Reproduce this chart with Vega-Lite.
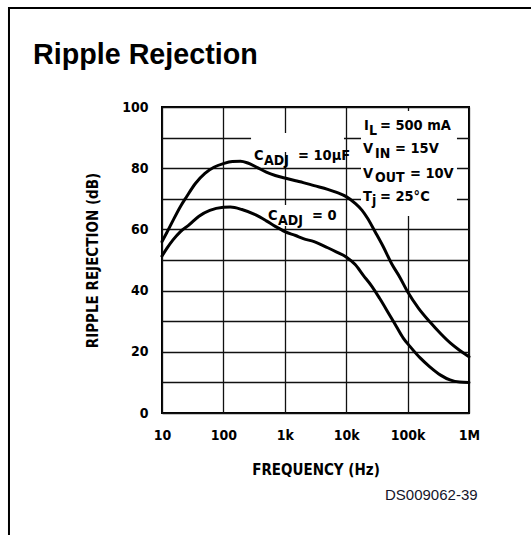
{
  "$schema": "https://vega.github.io/schema/vega-lite/v6.json",
  "width": 307,
  "height": 306,
  "autosize": {"type": "none"},
  "padding": {"left": 162, "top": 107, "right": 62, "bottom": 122},
  "background": "white",
  "title": {
    "text": "Ripple Rejection",
    "anchor": "start",
    "frame": "group",
    "font": "Liberation Sans",
    "fontSize": 28.7,
    "fontWeight": "bold",
    "color": "#000",
    "baseline": "alphabetic",
    "dx": -129,
    "dy": 124,
    "offset": 38
  },
  "datasets": {
    "curves": [
      {"s": "10uF", "f": 10, "db": 56},
      {"s": "10uF", "f": 12, "db": 59},
      {"s": "10uF", "f": 15, "db": 62.8},
      {"s": "10uF", "f": 20, "db": 67.5},
      {"s": "10uF", "f": 25, "db": 70.6},
      {"s": "10uF", "f": 35, "db": 75},
      {"s": "10uF", "f": 50, "db": 78.3},
      {"s": "10uF", "f": 70, "db": 80.3},
      {"s": "10uF", "f": 100, "db": 81.5},
      {"s": "10uF", "f": 140, "db": 82.2},
      {"s": "10uF", "f": 190, "db": 82.3},
      {"s": "10uF", "f": 250, "db": 81.7},
      {"s": "10uF", "f": 350, "db": 80.3},
      {"s": "10uF", "f": 500, "db": 78.7},
      {"s": "10uF", "f": 700, "db": 77.6},
      {"s": "10uF", "f": 1000, "db": 76.8},
      {"s": "10uF", "f": 1500, "db": 75.9},
      {"s": "10uF", "f": 2000, "db": 75.3},
      {"s": "10uF", "f": 3000, "db": 74.3},
      {"s": "10uF", "f": 5000, "db": 73.1},
      {"s": "10uF", "f": 7000, "db": 72.1},
      {"s": "10uF", "f": 10000, "db": 70.7},
      {"s": "10uF", "f": 14000, "db": 68.5},
      {"s": "10uF", "f": 18000, "db": 66.3},
      {"s": "10uF", "f": 22000, "db": 63.8},
      {"s": "10uF", "f": 30000, "db": 59},
      {"s": "10uF", "f": 40000, "db": 54.4},
      {"s": "10uF", "f": 55000, "db": 48.8},
      {"s": "10uF", "f": 75000, "db": 44.3},
      {"s": "10uF", "f": 100000, "db": 39.6},
      {"s": "10uF", "f": 150000, "db": 34.3},
      {"s": "10uF", "f": 230000, "db": 29.8},
      {"s": "10uF", "f": 350000, "db": 25.8},
      {"s": "10uF", "f": 500000, "db": 22.8},
      {"s": "10uF", "f": 700000, "db": 20.5},
      {"s": "10uF", "f": 1000000, "db": 18.4},
      {"s": "0", "f": 10, "db": 51.3},
      {"s": "0", "f": 12, "db": 53.8},
      {"s": "0", "f": 15, "db": 56.5},
      {"s": "0", "f": 20, "db": 59.3},
      {"s": "0", "f": 27, "db": 61.3},
      {"s": "0", "f": 40, "db": 64.3},
      {"s": "0", "f": 60, "db": 66.2},
      {"s": "0", "f": 100, "db": 67.2},
      {"s": "0", "f": 130, "db": 67.3},
      {"s": "0", "f": 200, "db": 66.5},
      {"s": "0", "f": 330, "db": 64.8},
      {"s": "0", "f": 500, "db": 62.8},
      {"s": "0", "f": 700, "db": 61},
      {"s": "0", "f": 1000, "db": 59.3},
      {"s": "0", "f": 1500, "db": 58},
      {"s": "0", "f": 2000, "db": 57},
      {"s": "0", "f": 3000, "db": 56},
      {"s": "0", "f": 5000, "db": 54},
      {"s": "0", "f": 7000, "db": 52.6},
      {"s": "0", "f": 10000, "db": 51},
      {"s": "0", "f": 14000, "db": 48.5},
      {"s": "0", "f": 19000, "db": 45},
      {"s": "0", "f": 26000, "db": 41.5},
      {"s": "0", "f": 35000, "db": 37.5},
      {"s": "0", "f": 50000, "db": 32.3},
      {"s": "0", "f": 66000, "db": 28.2},
      {"s": "0", "f": 85000, "db": 24.5},
      {"s": "0", "f": 110000, "db": 21.7},
      {"s": "0", "f": 160000, "db": 18},
      {"s": "0", "f": 230000, "db": 15.1},
      {"s": "0", "f": 350000, "db": 12.3},
      {"s": "0", "f": 490000, "db": 10.8},
      {"s": "0", "f": 700000, "db": 10.1},
      {"s": "0", "f": 1000000, "db": 10}
    ],
    "masks": [
      {"f": 282, "f2": 9200, "db": 85.3, "db2": 91.5},
      {"f": 17420, "f2": 637000, "db": 64.4, "db2": 98.7},
      {"f": 494, "f2": 7350, "db": 61.1, "db2": 68.0}
    ],
    "notes": [
      {"t": "C", "f": 315, "db": 82.68},
      {"t": "= 10\u03bcF", "f": 1641, "db": 82.68},
      {"t": "C", "f": 532, "db": 63.07},
      {"t": "= 0", "f": 2773, "db": 63.07},
      {"t": "I", "f": 19500, "db": 92.5},
      {"t": "= 500 mA", "f": 35500, "db": 92.5},
      {"t": "V", "f": 18790, "db": 84.97},
      {"t": "= 15V", "f": 62370, "db": 84.97},
      {"t": "V", "f": 18790, "db": 76.8},
      {"t": "= 10V", "f": 109400, "db": 76.8},
      {"t": "T", "f": 18790, "db": 69.28},
      {"t": "= 25\u00b0C", "f": 35500, "db": 69.28}
    ],
    "subs": [
      {"t": "ADJ", "f": 458, "db": 81.05},
      {"t": "ADJ", "f": 774, "db": 61.44},
      {"t": "L", "f": 23500, "db": 90.95},
      {"t": "IN", "f": 29430, "db": 83.33},
      {"t": "OUT", "f": 29430, "db": 75.49},
      {"t": "j", "f": 26300, "db": 67.97}
    ],
    "code": [
      {"t": "DS009062-39", "f": 42850, "db": -28.4}
    ]
  },
  "layer": [
    {
      "data": {"values": [{"frame": "page"}]},
      "mark": {"type": "rect", "fill": null, "stroke": "#000", "strokeWidth": 2},
      "encoding": {
        "x": {
          "datum": 0.0322,
          "type": "quantitative",
          "scale": {"type": "log", "domain": [10, 1000000]},
          "axis": {
            "values": [10, 100, 1000, 10000, 100000, 1000000],
            "labelExpr": "datum.value >= 1000000 ? '1M' : datum.value >= 1000 ? (datum.value / 1000) + 'k' : '' + datum.value",
            "title": "FREQUENCY (Hz)",
            "labelFlush": false,
            "labelOverlap": false,
            "labelPadding": 15,
            "titlePadding": 20
          }
        },
        "x2": {"datum": 1000000000},
        "y": {
          "datum": 132.35,
          "type": "quantitative",
          "scale": {"domain": [0, 100]},
          "axis": {
            "values": [0, 10, 20, 30, 40, 50, 60, 70, 80, 90, 100],
            "labelExpr": "datum.value % 20 === 0 ? datum.label : ''",
            "title": "RIPPLE REJECTION (dB)",
            "labelPadding": 14,
            "labelOverlap": false,
            "titlePadding": 21
          }
        },
        "y2": {"datum": -60}
      }
    },
    {
      "encoding": {
        "x": {
          "field": "f",
          "type": "quantitative",
          "scale": {"type": "log", "domain": [10, 1000000]},
          "axis": {
            "values": [10, 100, 1000, 10000, 100000, 1000000],
            "labelExpr": "datum.value >= 1000000 ? '1M' : datum.value >= 1000 ? (datum.value / 1000) + 'k' : '' + datum.value",
            "title": "FREQUENCY (Hz)",
            "labelFlush": false,
            "labelOverlap": false,
            "labelPadding": 15,
            "titlePadding": 20
          }
        },
        "y": {
          "field": "db",
          "type": "quantitative",
          "scale": {"domain": [0, 100]},
          "axis": {
            "values": [0, 10, 20, 30, 40, 50, 60, 70, 80, 90, 100],
            "labelExpr": "datum.value % 20 === 0 ? datum.label : ''",
            "title": "RIPPLE REJECTION (dB)",
            "labelPadding": 14,
            "labelOverlap": false,
            "titlePadding": 21
          }
        }
      },
      "layer": [
        {
          "data": {"name": "masks"},
          "mark": {"type": "rect", "fill": "white", "stroke": null},
          "encoding": {
            "x2": {"field": "f2"},
            "y2": {"field": "db2"}
          }
        },
        {
          "data": {"name": "curves"},
          "mark": {"type": "line", "interpolate": "monotone", "color": "#000", "strokeWidth": 3, "strokeCap": "round"},
          "encoding": {
            "detail": {"field": "s", "type": "nominal"}
          }
        },
        {
          "data": {"name": "notes"},
          "mark": {"type": "text", "align": "left", "baseline": "alphabetic", "font": "DejaVu Sans Condensed, Liberation Sans Narrow, sans-serif", "fontWeight": "bold", "fontSize": 14.5, "color": "#000"},
          "encoding": {"text": {"field": "t"}}
        },
        {
          "data": {"name": "subs"},
          "mark": {"type": "text", "align": "left", "baseline": "alphabetic", "font": "DejaVu Sans Condensed, Liberation Sans Narrow, sans-serif", "fontWeight": "bold", "fontSize": 14, "color": "#000"},
          "encoding": {"text": {"field": "t"}}
        },
        {
          "data": {"name": "code"},
          "mark": {"type": "text", "align": "left", "baseline": "alphabetic", "font": "Liberation Sans", "fontSize": 15, "color": "#14142a"},
          "encoding": {"text": {"field": "t"}}
        }
      ]
    }
  ],
  "config": {
    "view": {"stroke": "#000", "strokeWidth": 2},
    "axis": {
      "grid": true,
      "gridColor": "#111",
      "gridWidth": 1.3,
      "gridOpacity": 1,
      "domain": false,
      "ticks": false,
      "labelFont": "DejaVu Sans Condensed, Liberation Sans Narrow, sans-serif",
      "labelFontSize": 14,
      "labelFontWeight": "bold",
      "labelColor": "#000",
      "titleFont": "DejaVu Sans Condensed, Liberation Sans Narrow, sans-serif",
      "titleFontSize": 15,
      "titleFontWeight": "bold",
      "titleColor": "#000"
    }
  }
}
